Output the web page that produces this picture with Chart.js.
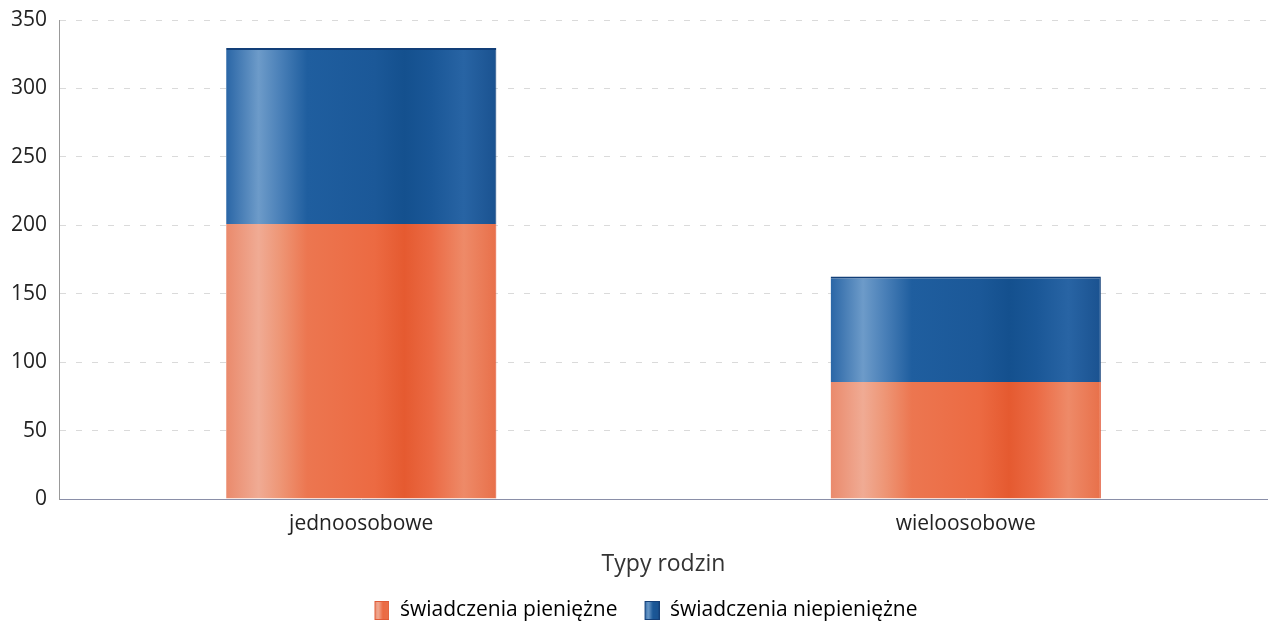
<!DOCTYPE html>
<html><head><meta charset="utf-8">
<script src="https://cdn.jsdelivr.net/npm/chart.js@4.4.1/dist/chart.umd.min.js"></script>
<style>html,body{margin:0;padding:0;background:#fff}#wrap{width:1268px;height:624px}</style>
</head><body><div id="wrap"><canvas id="c" width="1268" height="624"></canvas></div>
<script>
const categories = ['jednoosobowe', 'wieloosobowe'];
const seriesNames = ['świadczenia pieniężne', 'świadczenia niepieniężne'];
const pieniezne = [201, 85.5];
const niepieniezne = [128.5, 77];
const yTicks = [0, 50, 100, 150, 200, 250, 300, 350];
const axisTitle = 'Typy rodzin';

const BAR_FRAC = 0.447;
const FONT = '"Open Sans", "Noto Sans", sans-serif';
const orangeStops = [[0,'#ea8a6c'],[0.12,'#f0ab94'],[0.2,'#ee9676'],[0.3,'#ec7650'],[0.55,'#ec6a42'],[0.66,'#e55a30'],[0.76,'#eb6a44'],[0.88,'#ee8a68'],[1,'#e8704a']];
const blueStops = [[0,'#2a66a6'],[0.12,'#6d9bc9'],[0.2,'#4a80b8'],[0.3,'#1f5e9f'],[0.55,'#1b5898'],[0.66,'#14508e'],[0.76,'#1a5797'],[0.88,'#2864a4'],[1,'#1a5290']];

function grad(stops, fallback){
  return function(ctx){
    const chart = ctx.chart;
    const xs = chart.scales && chart.scales.x;
    if (!chart.chartArea || !xs || ctx.dataIndex === undefined) return fallback;
    const cx = xs.getPixelForValue(ctx.dataIndex);
    const w = (xs.width / categories.length) * BAR_FRAC;
    const g = chart.ctx.createLinearGradient(cx - w/2, 0, cx + w/2, 0);
    stops.forEach(s => g.addColorStop(s[0], s[1]));
    return g;
  };
}

// legend swatch: transparent left part (acts as spacing), gradient box on the right
function swatch(stops, edge){
  const c = document.createElement('canvas');
  c.width = 31; c.height = 19;
  const x = c.getContext('2d');
  const g = x.createLinearGradient(16, 0, 31, 0);
  [[0,stops[0][1]],[0.25,stops[1][1]],[0.55,stops[4][1]],[1,stops[8][1]]].forEach(s => g.addColorStop(s[0], s[1]));
  x.fillStyle = g; x.fillRect(16, 0, 15, 19);
  x.strokeStyle = edge; x.lineWidth = 1; x.strokeRect(16.5, 0.5, 14, 18);
  return c;
}
const swatches = [swatch(orangeStops, '#e05a36'), swatch(blueStops, '#143f78')];

new Chart(document.getElementById('c'), {
  type: 'bar',
  data: {
    labels: categories,
    datasets: [
      { label: seriesNames[0], data: pieniezne, backgroundColor: grad(orangeStops, '#ea6d48'),
        borderColor: '#e0502e', borderWidth: {top:0,left:0,right:1,bottom:0}, borderSkipped: false,
        barPercentage: 0.894, categoryPercentage: 0.5 },
      { label: seriesNames[1], data: niepieniezne, backgroundColor: grad(blueStops, '#1d5a9a'),
        borderColor: '#123f78', borderWidth: {top:2,left:0,right:1,bottom:0}, borderSkipped: false,
        barPercentage: 0.894, categoryPercentage: 0.5 }
    ]
  },
  options: {
    responsive: false,
    animation: false,
    devicePixelRatio: 1,
    layout: { padding: { top: 20, right: -8, left: 0, bottom: 0 } },
    scales: {
      x: {
        stacked: true,
        afterFit: (s) => { s.height = 90; s.paddingLeft = 0; s.paddingRight = 0; },
        grid: { display: false, drawTicks: false },
        border: { display: true, color: '#8a8fa8', width: 1 },
        ticks: { color: '#222', font: { size: 21, family: FONT }, padding: 12 },
        title: { display: true, text: axisTitle, color: '#333', font: { size: 23, family: FONT }, padding: { top: 3, bottom: 11 } }
      },
      y: {
        stacked: true,
        min: 0, max: 350,
        afterBuildTicks: (s) => { s.ticks = yTicks.map(v => ({ value: v })); },
        afterFit: (s) => { s.width = 59; s.paddingTop = 0; s.paddingBottom = 0; },
        grid: { color: '#dadada', drawTicks: false, lineWidth: 1 },
        border: { display: true, color: '#999', width: 1, dash: [6, 10] },
        ticks: { color: '#222', font: { size: 21, family: FONT }, padding: 12 }
      }
    },
    plugins: {
      tooltip: { enabled: false },
      legend: {
        position: 'bottom',
        maxHeight: 35,
        labels: {
          color: '#222', font: { size: 21, family: FONT },
          usePointStyle: true, pointStyleWidth: 31, boxHeight: 19, padding: 11,
          generateLabels: (chart) => chart.data.datasets.map((d, i) => ({
            text: d.label, pointStyle: swatches[i], fillStyle: i === 0 ? '#ea7352' : '#1d5a9a',
            strokeStyle: 'transparent', lineWidth: 0, datasetIndex: i, hidden: false
          }))
        }
      }
    }
  }
});
</script></body></html>
